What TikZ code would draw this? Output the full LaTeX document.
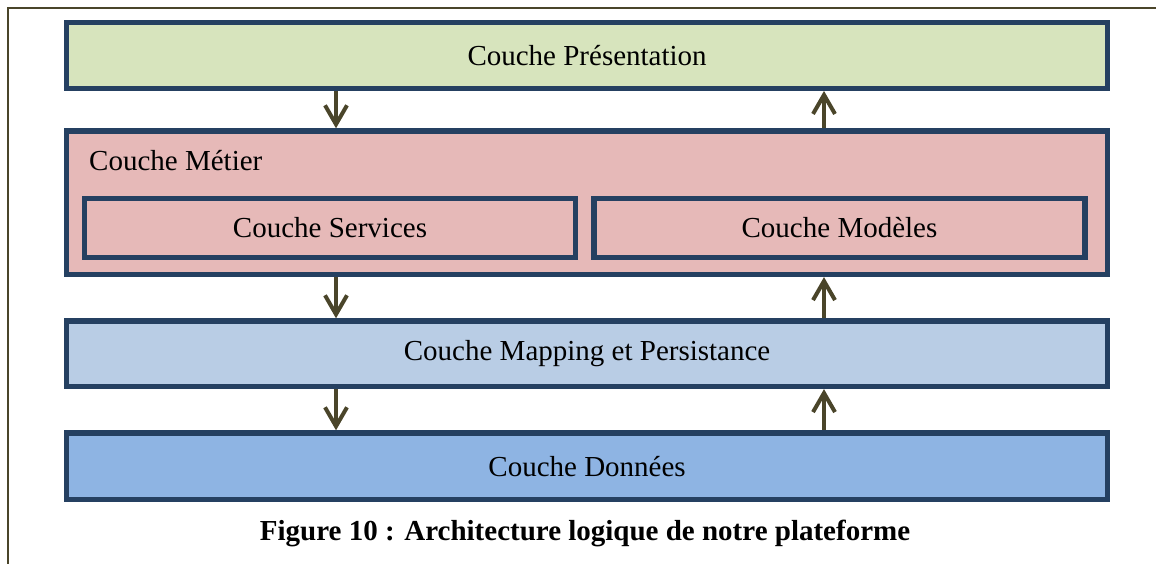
\documentclass[tikz,border=0pt]{standalone}
\usepackage{fontspec}
\setmainfont{Liberation Serif}
\usetikzlibrary{arrows.meta}
\definecolor{borderblue}{HTML}{254061}
\definecolor{arrowbrown}{HTML}{4A452A}
\definecolor{presgreen}{HTML}{D7E4BD}
\definecolor{metierpink}{HTML}{E6B9B8}
\definecolor{mapblue}{HTML}{B9CDE5}
\definecolor{datablue}{HTML}{8EB4E3}
\begin{document}
\begin{tikzpicture}[x=1pt, y=-1pt,
    layer/.style={rectangle, draw=borderblue, line width=5.3pt, inner sep=0pt,
                  minimum width=1040.8pt, align=center, font=\fontsize{29}{34}\selectfont},
    sublayer/.style={layer, minimum width=491pt, minimum height=59pt},
    arr/.style={-{Straight Barb[length=19pt, width=22pt]}, line width=4pt, draw=arrowbrown},
  ]
  \useasboundingbox (0,0) rectangle (1156,564);

  % frame
  \draw[arrowbrown, line width=2pt] (7.5,564) -- (7.5,8) -- (1156,8);

  % Presentation
  \node[layer, fill=presgreen, minimum height=65.6pt] (pres) at (587.1,55.5) {Couche Présentation};

  % Metier
  \node[layer, fill=metierpink, minimum height=143.5pt] (metier) at (587.1,202.7) {};
  \node[anchor=base west, inner sep=0pt, font=\fontsize{29}{34}\selectfont] (metierlbl) at (89,171) {Couche Métier};
  \node[sublayer, fill=metierpink] (serv) at (330,228) {Couche Services};
  \node[sublayer, fill=metierpink] (modl) at (839.5,228) {Couche Modèles};

  % Mapping
  \node[layer, fill=mapblue, minimum height=65.5pt] (mapp) at (587.1,353.7) {Couche Mapping et Persistance};

  % Donnees
  \node[layer, fill=datablue, minimum height=66.5pt] (data) at (587.1,466.2) {Couche Données};

  % arrows
  \coordinate (dn) at (336,0);
  \coordinate (up) at (824,0);
  \draw[arr] (pres.south -| dn) -- (metier.north -| dn);
  \draw[arr] (metier.north -| up) -- (pres.south -| up);
  \draw[arr] (metier.south -| dn) -- (mapp.north -| dn);
  \draw[arr] (mapp.north -| up) -- (metier.south -| up);
  \draw[arr] (mapp.south -| dn) -- (data.north -| dn);
  \draw[arr] (data.north -| up) -- (mapp.south -| up);

  % caption
  \node[inner sep=0pt, font=\fontsize{29}{34}\selectfont\bfseries] (caption) at (585,533)
    {Figure 10 : Architecture logique de notre plateforme};

\end{tikzpicture}
\end{document}
